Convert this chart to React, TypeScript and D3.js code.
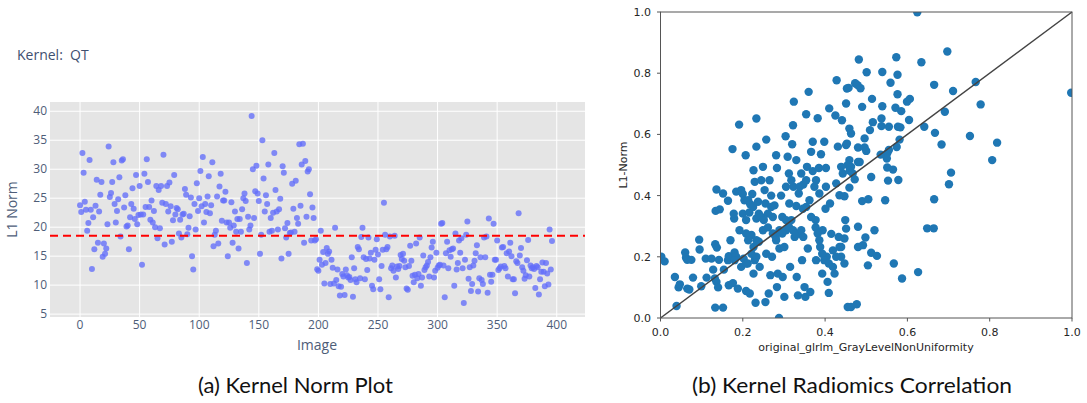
import React from "react";
import { scaleLinear, line } from "d3";

// (a) L1 norm of each kernel, by image index
const kernelNorms = [
  23.8, 22.6, 32.8, 29.4, 24.4, 23.0, 19.4, 20.7, 31.6, 23.0,
  12.8, 21.7, 16.2, 23.7, 28.2, 17.3, 22.7, 25.6, 27.8, 14.9,
  17.2, 15.4, 16.3, 20.5, 33.9, 25.2, 25.9, 27.8, 31.2, 24.0,
  20.8, 22.8, 24.8, 28.6, 18.4, 31.5, 31.7, 23.4, 25.5, 20.1,
  20.3, 16.2, 21.7, 24.0, 26.7, 23.2, 21.4, 29.0, 20.5, 22.1,
  27.1, 22.2, 13.5, 22.2, 29.2, 23.5, 31.7, 27.8, 23.5, 21.3,
  24.6, 20.8, 22.8, 20.0, 27.1, 18.1, 26.4, 19.8, 27.1, 24.2,
  32.5, 17.0, 24.0, 27.1, 22.7, 27.7, 23.6, 17.5, 21.2, 29.0,
  22.2, 23.3, 23.1, 18.9, 21.3, 18.2, 22.2, 22.3, 26.6, 25.6,
  18.8, 19.9, 21.9, 25.1, 15.0, 12.7, 24.0, 19.6, 27.6, 22.8,
  25.0, 29.7, 23.6, 32.1, 20.8, 24.0, 22.6, 25.3, 28.8, 22.4,
  23.8, 31.2, 16.7, 18.7, 19.4, 25.3, 17.2, 27.0, 29.2, 21.1,
  24.6, 24.6, 26.1, 20.8, 15.0, 20.8, 19.9, 24.3, 17.3, 20.3,
  22.7, 19.2, 21.4, 16.3, 21.4, 19.2, 23.1, 25.0, 25.8, 24.5,
  13.8, 21.8, 19.6, 20.3, 39.2, 30.0, 21.6, 26.2, 30.6, 25.8,
  24.5, 15.4, 18.7, 35.0, 28.4, 22.7, 25.5, 24.0, 30.8, 19.2,
  21.6, 19.4, 22.5, 32.8, 26.4, 22.7, 19.6, 23.1, 24.9, 14.6,
  30.5, 29.4, 19.8, 18.2, 20.7, 15.4, 19.0, 19.1, 27.5, 23.2,
  19.2, 28.0, 21.6, 20.6, 34.3, 23.7, 30.8, 34.4, 17.3, 31.4,
  21.8, 29.6, 30.0, 25.7, 17.7, 23.4, 21.6, 17.7, 17.9,
  12.75, 12.5, 14.4, 19.4, 13.5, 15.7, 10.3, 13.8, 16.4, 15.4,
  15.8, 10.2, 14.4, 13.0, 10.3, 19.9, 10.9, 12.7, 9.8, 8.2,
  9.7, 11.9, 11.5, 8.3, 12.7, 11.7, 11.3, 11.4, 10.9, 14.8,
  8.0, 12.9, 11.0, 10.5, 16.6, 16.2, 11.2, 18.3, 19.9, 14.8,
  11.0, 14.5, 12.6, 18.2, 14.6, 15.6, 9.9, 9.3, 14.4, 16.1,
  17.9, 15.3, 11.0, 9.3, 13.3, 16.1, 24.2, 18.7, 16.2, 16.6,
  7.9, 18.4, 12.9, 13.4, 12.5, 18.5, 11.3, 13.2, 12.8, 13.3,
  15.2, 14.5, 15.4, 14.2, 13.1, 9.4, 9.2, 13.3, 16.8, 14.2,
  11.6, 10.5, 11.8, 17.2, 11.2, 11.9, 18.2, 9.9, 11.3, 15.1,
  12.6, 13.1, 13.4, 14.0, 11.5, 14.8, 16.5, 17.5, 11.3, 12.5,
  15.6, 13.0, 13.4, 13.5, 20.6, 20.7, 13.4, 7.9, 15.5, 17.5,
  12.9, 16.0, 14.9, 16.2, 16.3, 9.9, 18.9, 12.7, 13.8, 17.7,
  15.6, 18.1, 12.9, 6.9, 14.4, 18.7, 21.0, 11.1, 13.1, 9.0,
  10.2, 13.4, 14.2, 15.5, 16.9, 8.9, 11.2, 14.8, 10.9, 10.2,
  18.2, 14.8, 18.4, 8.7, 21.5, 11.8, 10.6, 11.8, 20.6, 14.4,
  14.4, 17.7, 12.6, 12.9, 13.2, 16.5, 16.6, 13.3, 12.9, 15.5,
  11.5, 15.8, 17.3, 15.0, 11.0, 11.0, 8.6, 14.1, 13.8, 22.4,
  15.1, 16.4, 13.1, 12.5, 11.1, 11.7, 14.3, 17.8, 11.5, 13.4,
  12.9, 13.1, 12.8, 9.5, 13.3, 13.1, 8.4, 11.0, 12.3, 13.9,
  12.3, 9.8, 13.8, 12.0, 10.1, 19.6, 12.7, 17.6,
];
const normThreshold = 18.5;
const normXTicks = [0, 50, 100, 150, 200, 250, 300, 350, 400];
const normYTicks = [5, 10, 15, 20, 25, 30, 35, 40];

// (b) radiomics feature vs L1 norm (both normalised)
const glrlmX = [
  0.002, 0.01, 0.035, 0.039, 0.044, 0.047, 0.06, 0.062, 0.065, 0.065, 0.07, 0.075, 0.079,
  0.094, 0.095, 0.099, 0.11, 0.112, 0.124, 0.128, 0.134, 0.136, 0.133, 0.137, 0.132, 0.136,
  0.14, 0.133, 0.152, 0.142, 0.144, 0.152, 0.154, 0.164, 0.166, 0.166, 0.164, 0.17, 0.175,
  0.176, 0.179, 0.178, 0.18, 0.184, 0.18, 0.184, 0.188, 0.191, 0.192, 0.196, 0.2, 0.196,
  0.2, 0.204, 0.207, 0.202, 0.208, 0.212, 0.208, 0.217, 0.208, 0.216, 0.221, 0.223, 0.226,
  0.229, 0.231, 0.233, 0.233, 0.226, 0.229, 0.233, 0.233, 0.237, 0.239, 0.241, 0.245, 0.249,
  0.249, 0.253, 0.255, 0.255, 0.257, 0.257, 0.261, 0.263, 0.265, 0.267, 0.269, 0.271, 0.273,
  0.277, 0.28, 0.281, 0.283, 0.283, 0.288, 0.285, 0.289, 0.293, 0.296, 0.297, 0.301, 0.301,
  0.304, 0.305, 0.309, 0.312, 0.313, 0.315, 0.318, 0.32, 0.322, 0.324, 0.323, 0.326, 0.33,
  0.33, 0.331, 0.334, 0.336, 0.338, 0.342, 0.344, 0.346, 0.347, 0.35, 0.352, 0.354, 0.356,
  0.36, 0.358, 0.362, 0.364, 0.366, 0.37, 0.37, 0.374, 0.377, 0.378, 0.382, 0.385, 0.386,
  0.388, 0.39, 0.393, 0.394, 0.398, 0.401, 0.402, 0.404, 0.406, 0.409, 0.41, 0.412, 0.415,
  0.419, 0.423, 0.425, 0.427, 0.428, 0.431, 0.433, 0.435, 0.439, 0.441, 0.443, 0.447, 0.449,
  0.451, 0.451, 0.453, 0.455,
  0.463, 0.477, 0.451, 0.447, 0.439, 0.447, 0.48, 0.48, 0.492, 0.498, 0.504, 0.512, 0.526,
  0.52, 0.482, 0.501, 0.457, 0.473, 0.479, 0.486, 0.514, 0.49, 0.539, 0.559, 0.573, 0.576,
  0.576, 0.539, 0.537, 0.571, 0.585, 0.599, 0.606, 0.604, 0.516, 0.537, 0.555, 0.577, 0.583,
  0.509, 0.459, 0.463, 0.453, 0.48, 0.496, 0.5, 0.496, 0.581, 0.574, 0.555, 0.551, 0.55,
  0.535, 0.484, 0.48, 0.459, 0.455, 0.463, 0.46, 0.439, 0.467, 0.472, 0.459, 0.512, 0.551,
  0.565, 0.553, 0.578, 0.49, 0.505, 0.546, 0.641, 0.667, 0.683, 0.665, 0.634, 0.697, 0.711,
  0.691, 0.766, 0.778, 0.752, 0.818, 0.806, 0.706, 0.701, 0.665, 0.648, 0.664, 0.567, 0.587,
  0.626, 0.624, 0.998,
  0.213, 0.218, 0.225, 0.239, 0.245, 0.251, 0.261, 0.269, 0.273, 0.281, 0.289, 0.296, 0.305,
  0.312, 0.322, 0.33, 0.342, 0.347, 0.354, 0.366, 0.377, 0.382, 0.386, 0.393, 0.398, 0.409,
  0.419, 0.427, 0.435, 0.208, 0.213, 0.221, 0.226, 0.233, 0.305, 0.318, 0.338, 0.354, 0.378,
  0.402,
];
const l1NormY = [
  0.2, 0.185, 0.134, 0.039, 0.1, 0.11, 0.214, 0.197, 0.19, 0.096, 0.093, 0.19, 0.132,
  0.256, 0.224, 0.104, 0.194, 0.132, 0.194, 0.158, 0.35, 0.42, 0.241, 0.23, 0.129, 0.118,
  0.1, 0.034, 0.034, 0.19, 0.355, 0.407, 0.158, 0.189, 0.202, 0.107, 0.383, 0.254, 0.552,
  0.114, 0.325, 0.341, 0.214, 0.2, 0.189, 0.413, 0.096, 0.632, 0.287, 0.418, 0.405, 0.167,
  0.341, 0.385, 0.532, 0.194, 0.178, 0.178, 0.088, 0.08, 0.32, 0.345, 0.271, 0.405, 0.483,
  0.445, 0.05, 0.56, 0.652, 0.145, 0.189, 0.2, 0.325, 0.38, 0.249, 0.167, 0.45, 0.494,
  0.287, 0.418, 0.374, 0.052, 0.583, 0.21, 0.296, 0.08, 0.45, 0.14, 0.4, 0.2, 0.33,
  0.368, 0.265, 0.532, 0.49, 0.101, 0.0, 0.145, 0.227, 0.4, 0.33, 0.134, 0.232, 0.069,
  0.594, 0.287, 0.527, 0.472, 0.374, 0.167, 0.32, 0.568, 0.63, 0.707, 0.429, 0.265, 0.516,
  0.366, 0.134, 0.074, 0.407, 0.275, 0.472, 0.189, 0.357, 0.436, 0.101, 0.069, 0.666, 0.494,
  0.739, 0.227, 0.385, 0.085, 0.543, 0.576, 0.48, 0.429, 0.296, 0.189, 0.653, 0.49, 0.407,
  0.232, 0.535, 0.145, 0.287, 0.576, 0.357, 0.49, 0.2, 0.118, 0.082, 0.685, 0.374, 0.275,
  0.167, 0.145, 0.662, 0.44, 0.777, 0.56, 0.265, 0.401, 0.2, 0.646, 0.472, 0.398, 0.32,
  0.701, 0.565, 0.75, 0.036,
  0.036, 0.045, 0.292, 0.26, 0.232, 0.178, 0.298, 0.232, 0.238, 0.263, 0.172, 0.213, 0.203,
  0.287, 0.845, 0.803, 0.752, 0.767, 0.761, 0.751, 0.716, 0.69, 0.804, 0.769, 0.852, 0.795,
  0.731, 0.692, 0.652, 0.687, 0.676, 0.707, 0.716, 0.647, 0.64, 0.627, 0.625, 0.625, 0.623,
  0.614, 0.619, 0.603, 0.57, 0.557, 0.557, 0.546, 0.587, 0.583, 0.559, 0.549, 0.538, 0.521,
  0.534, 0.51, 0.51, 0.516, 0.5, 0.494, 0.481, 0.494, 0.472, 0.453, 0.426, 0.461, 0.492,
  0.485, 0.449, 0.451, 0.382, 0.388, 0.385, 0.625, 0.605, 0.567, 0.762, 0.836, 0.871, 0.742,
  0.674, 0.771, 0.698, 0.595, 0.573, 0.516, 0.475, 0.437, 0.388, 0.293, 0.293, 0.178, 0.129,
  0.15, 0.999, 0.736,
  0.385, 0.372, 0.363, 0.341, 0.33, 0.32, 0.341, 0.363, 0.276, 0.254, 0.287, 0.276, 0.32,
  0.298, 0.287, 0.276, 0.287, 0.265, 0.363, 0.33, 0.32, 0.276, 0.254, 0.21, 0.189, 0.178,
  0.221, 0.2, 0.232, 0.276, 0.254, 0.21, 0.232, 0.254, 0.429, 0.45, 0.429, 0.45, 0.45,
  0.429,
];
const corrTicks = [0, 0.2, 0.4, 0.6, 0.8, 1.0];

const W = 1087;
const H = 403;

// left panel (plotly-like)
const xL = scaleLinear().domain([-25.2, 423.7]).range([50, 585]);
const yL = scaleLinear().domain([4.5, 41.6]).range([317, 102]);
// right panel (matplotlib-like)
const xR = scaleLinear().domain([0, 1]).range([660.5, 1072]);
const yR = scaleLinear().domain([0, 1]).range([318, 12]);

const plotlyFont = "'Open Sans', Verdana, Arial, sans-serif";
const plotlyText = "#4e5d78";
const mplFont = "'DejaVu Sans', sans-serif";
const captionFont = "Lato, 'Noto Sans', sans-serif";

export default function App() {
  const diag = line<number>()
    .x((d) => xR(d))
    .y((d) => yR(d))([0, 1]);

  return (
    <svg
      width={W}
      height={H}
      style={{ position: "absolute", left: 0, top: 0, background: "#fff" }}
    >
      <defs>
        <clipPath id="clipL">
          <rect x={50} y={102} width={535} height={215} />
        </clipPath>
        <clipPath id="clipR">
          <rect x={660.5} y={12} width={411.5} height={306} />
        </clipPath>
      </defs>

      {/* ---------- (a) kernel norm plot ---------- */}
      <text
        x={17}
        y={60}
        fontFamily={plotlyFont}
        fontSize={14}
        fill="#3f5070"
        style={{ whiteSpace: "pre" }}
      >
        {"Kernel:  QT"}
      </text>
      <rect x={50} y={102} width={535} height={215} fill="#e5e5e5" />
      {normYTicks.map((t) => (
        <line key={"gy" + t} x1={50} x2={585} y1={yL(t)} y2={yL(t)} stroke="#fff" strokeWidth={1} />
      ))}
      {normXTicks.map((t) => (
        <line key={"gx" + t} x1={xL(t)} x2={xL(t)} y1={102} y2={317} stroke="#fff" strokeWidth={1} />
      ))}
      <g clipPath="url(#clipL)">
        {kernelNorms.map((v, i) => (
          <circle key={i} cx={xL(i)} cy={yL(v)} r={3} fill="#636efa" opacity={0.78} />
        ))}
        <line
          x1={50}
          x2={585}
          y1={yL(normThreshold)}
          y2={yL(normThreshold)}
          stroke="#ff0000"
          strokeWidth={2}
          strokeDasharray="8,5"
        />
      </g>
      {normYTicks.map((t) => (
        <text
          key={"ty" + t}
          x={47}
          y={yL(t)}
          dy="0.35em"
          textAnchor="end"
          fontFamily={plotlyFont}
          fontSize={12}
          fill={plotlyText}
        >
          {t}
        </text>
      ))}
      {normXTicks.map((t) => (
        <text
          key={"tx" + t}
          x={xL(t)}
          y={329}
          textAnchor="middle"
          fontFamily={plotlyFont}
          fontSize={12}
          fill={plotlyText}
        >
          {t}
        </text>
      ))}
      <text x={317} y={350} textAnchor="middle" fontFamily={plotlyFont} fontSize={14} fill={plotlyText}>
        Image
      </text>
      <text
        transform={`translate(17,${(102 + 317) / 2}) rotate(-90)`}
        textAnchor="middle"
        fontFamily={plotlyFont}
        fontSize={14}
        fill={plotlyText}
      >
        L1 Norm
      </text>

      {/* ---------- (b) correlation scatter ---------- */}
      <g clipPath="url(#clipR)">
        {glrlmX.map((x, i) => (
          <circle key={i} cx={xR(x)} cy={yR(l1NormY[i])} r={4.2} fill="#1f77b4" />
        ))}
      </g>
      <path d={diag ?? ""} stroke="#444" strokeWidth={1.5} fill="none" />
      <rect x={660.5} y={12} width={411.5} height={306} fill="none" stroke="#555" strokeWidth={1} />
      {corrTicks.map((t) => (
        <g key={"rt" + t}>
          <line x1={xR(t)} x2={xR(t)} y1={318} y2={321.5} stroke="#555" />
          <line x1={657} x2={660.5} y1={yR(t)} y2={yR(t)} stroke="#555" />
          <text x={xR(t)} y={336} textAnchor="middle" fontFamily={mplFont} fontSize={11} fill="#262626">
            {t.toFixed(1)}
          </text>
          <text x={651} y={yR(t)} dy="0.36em" textAnchor="end" fontFamily={mplFont} fontSize={11} fill="#262626">
            {t.toFixed(1)}
          </text>
        </g>
      ))}
      <text x={866} y={351} textAnchor="middle" fontFamily={mplFont} fontSize={11} fill="#262626">
        original_glrlm_GrayLevelNonUniformity
      </text>
      <text
        transform={`translate(627,165) rotate(-90)`}
        textAnchor="middle"
        fontFamily={mplFont}
        fontSize={11}
        fill="#262626"
      >
        L1-Norm
      </text>

      {/* ---------- captions ---------- */}
      <text x={198} y={393} fontFamily={captionFont} fontSize={21} fill="#111" textLength={195} lengthAdjust="spacingAndGlyphs">
        (a) Kernel Norm Plot
      </text>
      <text x={692} y={393} fontFamily={captionFont} fontSize={21} fill="#111" textLength={320} lengthAdjust="spacingAndGlyphs">
        (b) Kernel Radiomics Correlation
      </text>
    </svg>
  );
}
